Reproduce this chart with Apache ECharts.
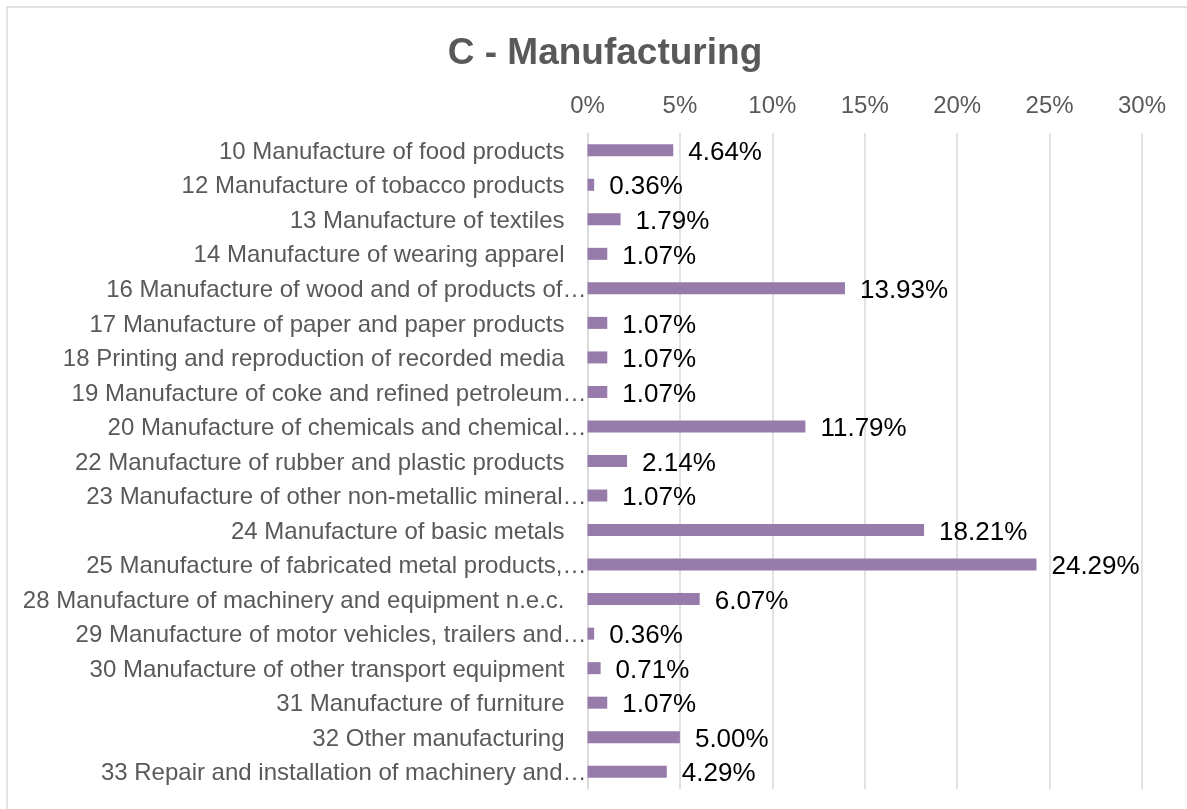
<!DOCTYPE html>
<html>
<head>
<meta charset="utf-8">
<script src="https://cdn.jsdelivr.net/npm/echarts@6/dist/echarts.min.js"></script>
<style>
html,body{margin:0;padding:0;background:#fff;}
#chart{width:1187px;height:809px;}
</style>
</head>
<body>
<div id="chart"></div>
<script>
var title = 'C - Manufacturing';
var categories = [
  '10 Manufacture of food products',
  '12 Manufacture of tobacco products',
  '13 Manufacture of textiles',
  '14 Manufacture of wearing apparel',
  '16 Manufacture of wood and of products of…',
  '17 Manufacture of paper and paper products',
  '18 Printing and reproduction of recorded media',
  '19 Manufacture of coke and refined petroleum…',
  '20 Manufacture of chemicals and chemical…',
  '22 Manufacture of rubber and plastic products',
  '23 Manufacture of other non-metallic mineral…',
  '24 Manufacture of basic metals',
  '25 Manufacture of fabricated metal products,…',
  '28 Manufacture of machinery and equipment n.e.c.',
  '29 Manufacture of motor vehicles, trailers and…',
  '30 Manufacture of other transport equipment',
  '31 Manufacture of furniture',
  '32 Other manufacturing',
  '33 Repair and installation of machinery and…'
];
var values = [4.64, 0.36, 1.79, 1.07, 13.93, 1.07, 1.07, 1.07, 11.79, 2.14, 1.07, 18.21, 24.29, 6.07, 0.36, 0.71, 1.07, 5.00, 4.29];
var tickMin = 0, tickMax = 30, tickStep = 5;

var FONT = '"Liberation Sans", Arial, sans-serif';
var chart = echarts.init(document.getElementById('chart'), null, {renderer: 'canvas'});
chart.setOption({
  backgroundColor: '#ffffff',
  animation: false,
  graphic: [{
    type: 'rect', silent: true,
    shape: {x: 7, y: 7, width: 1400, height: 1000},
    style: {fill: 'none', stroke: '#d9d9d9', lineWidth: 1.5}
  }],
  title: {
    text: title,
    left: 600, top: 30, textAlign: 'center',
    textStyle: {fontFamily: FONT, fontSize: 37, fontWeight: 'bold', color: '#595959'}
  },
  grid: {left: 587.5, right: 45, top: 133, bottom: 20, containLabel: false},
  xAxis: {
    type: 'value', position: 'top',
    min: tickMin, max: tickMax, interval: tickStep,
    axisLine: {show: false}, axisTick: {show: false},
    splitLine: {show: true, lineStyle: {color: '#d9d9d9', width: 1.5}},
    axisLabel: {
      margin: 15, formatter: '{value}%',
      fontFamily: FONT, fontSize: 24, color: '#595959'
    }
  },
  yAxis: {
    type: 'category', data: categories, inverse: true,
    axisLine: {show: true, lineStyle: {color: '#d9d9d9', width: 1.5}},
    axisTick: {show: false},
    axisLabel: {
      margin: 1, interval: 0,
      fontFamily: FONT, fontSize: 24, color: '#595959',
      formatter: function (v) {
        return v.slice(-1) === '…' ? '{t|' + v + '}' : '{n|' + v + '}';
      },
      rich: {
        t: {fontFamily: FONT, fontSize: 24, color: '#595959', padding: [4, 0, 0, 0]},
        n: {fontFamily: FONT, fontSize: 24, color: '#595959', padding: [4, 22, 0, 0]}
      }
    }
  },
  series: [{
    type: 'bar', data: values, barWidth: 12,
    itemStyle: {color: '#977bab'},
    label: {
      show: true, position: 'right', distance: 15, offset: [0, 2.5],
      fontFamily: FONT, fontSize: 26, color: '#000000',
      formatter: function (p) { return p.value.toFixed(2) + '%'; }
    }
  }]
});
</script>
</body>
</html>
